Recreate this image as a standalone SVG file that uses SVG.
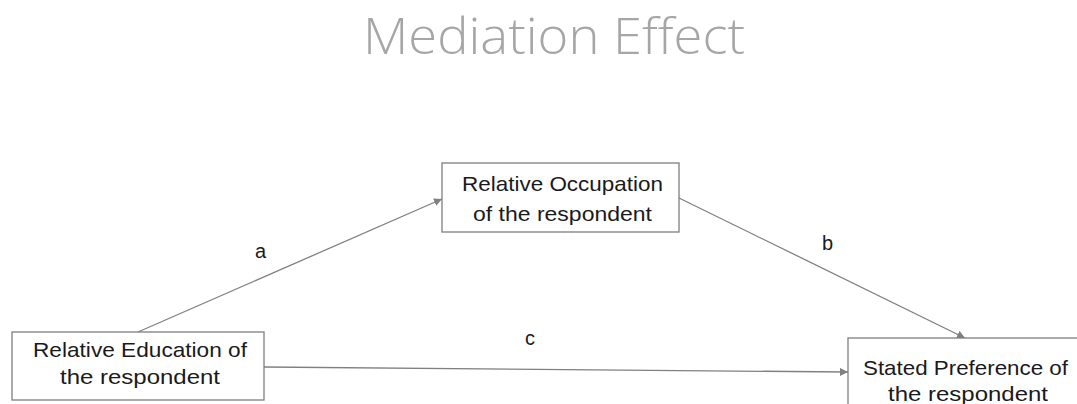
<svg xmlns="http://www.w3.org/2000/svg" width="1077" height="404" viewBox="0 0 1077 404">
<style>
.box{fill:#fff;stroke:#7f7f7f;stroke-width:1.3}
.t{font-family:"Liberation Sans",Arial,sans-serif;font-size:21px;fill:#1a1a1a}
.lbl{font-family:"Liberation Sans",Arial,sans-serif;font-size:20px;fill:#1a1a1a}
.title{font-family:"Open Sans","Liberation Sans",sans-serif;font-weight:300;font-size:50px;fill:#a6a6a6}
.edge{stroke:#808080;stroke-width:1.3;fill:none;marker-end:url(#arr)}
</style>
<defs>
<marker id="arr" viewBox="0 0 10 10" refX="10" refY="5" markerWidth="8" markerHeight="8" markerUnits="userSpaceOnUse" orient="auto">
<path d="M0,0 L10,5 L0,10 z" fill="#808080"/>
</marker>
</defs>
<rect width="1077" height="404" fill="#fff"/>
<text class="title" x="363" y="54" textLength="382" lengthAdjust="spacingAndGlyphs">Mediation Effect</text>
<g id="connectors">
<line class="edge" x1="138" y1="332" x2="442" y2="199"/>
<line class="edge" x1="679" y1="198" x2="965" y2="338"/>
<line class="edge" x1="264" y1="367" x2="848" y2="372"/>
<text class="lbl" x="255" y="258">a</text>
<text class="lbl" x="822" y="250">b</text>
<text class="lbl" x="525" y="345">c</text>
</g>
<g id="node-education">
<rect class="box" x="12" y="332" width="252" height="68"/>
<text class="t" x="33" y="357" textLength="214" lengthAdjust="spacingAndGlyphs">Relative Education of</text>
<text class="t" x="60" y="384" textLength="160" lengthAdjust="spacingAndGlyphs">the respondent</text>
</g>
<g id="node-occupation">
<rect class="box" x="442" y="163" width="237" height="69"/>
<text class="t" x="462" y="191" textLength="201" lengthAdjust="spacingAndGlyphs">Relative Occupation</text>
<text class="t" x="473" y="221" textLength="179" lengthAdjust="spacingAndGlyphs">of the respondent</text>
</g>
<g id="node-preference">
<rect class="box" x="848" y="338" width="240" height="80"/>
<text class="t" x="863" y="375" textLength="205" lengthAdjust="spacingAndGlyphs">Stated Preference of</text>
<text class="t" x="888" y="401" textLength="160" lengthAdjust="spacingAndGlyphs">the respondent</text>
</g>
</svg>
